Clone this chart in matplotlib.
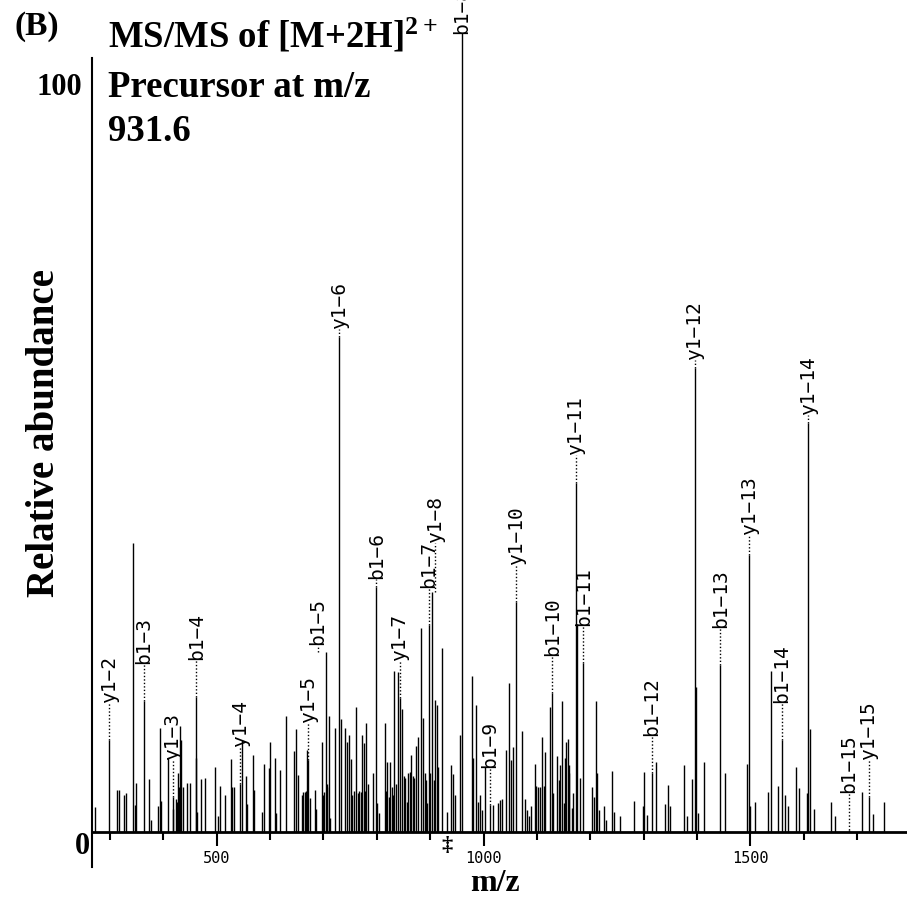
import numpy as np
import matplotlib.pyplot as plt

plt.rcParams['mathtext.fontset'] = 'custom'
plt.rcParams['mathtext.rm'] = 'Liberation Serif:bold'

# peak list (m/z, relative abundance)
mz = [272, 299, 314, 317, 326, 331, 343, 346, 349, 364, 373, 376, 390, 393, 396,
      408, 418, 419, 424, 425, 428, 430, 431, 434, 436, 444, 450, 461, 462, 464,
      471, 479, 497, 502, 506, 515, 526, 529, 532, 544, 548, 555, 557, 568, 570,
      585, 588, 598, 600, 609, 612, 618, 629, 645, 648, 653, 660, 662, 665, 667,
      669, 672, 675, 684, 687, 698, 700, 701, 704, 706, 707, 710, 712, 722, 730,
      733, 740, 744, 748, 752, 754, 758, 762, 765, 767, 770, 773, 776, 778, 780,
      783, 793, 799, 801, 804, 815, 817, 819, 822, 825, 828, 830, 833, 836, 840,
      843, 847, 851, 853, 856, 859, 862, 865, 867, 870, 873, 878, 882, 886, 890,
      892, 894, 897, 900, 904, 907, 909, 912, 915, 922, 931, 939, 943, 947, 956,
      959, 978, 981, 986, 989, 993, 998, 1003, 1012, 1017, 1028, 1031, 1035, 1043,
      1048, 1052, 1055, 1061, 1072, 1078, 1081, 1085, 1089, 1096, 1098, 1103, 1106,
      1110, 1113, 1116, 1125, 1129, 1131, 1138, 1141, 1144, 1147, 1151, 1152, 1155,
      1158, 1160, 1161, 1165, 1168, 1173, 1176, 1181, 1187, 1204, 1208, 1211, 1213,
      1217, 1226, 1229, 1241, 1244, 1256, 1282, 1298, 1300, 1306, 1315, 1323, 1341,
      1346, 1349, 1376, 1382, 1391, 1396, 1399, 1402, 1414, 1444, 1453, 1494, 1498,
      1500, 1509, 1533, 1539, 1552, 1559, 1565, 1570, 1586, 1592, 1607, 1609, 1612,
      1619, 1651, 1659, 1685, 1710, 1722, 1730, 1751]
abundance = [3.3, 12.4, 5.6, 5.6, 5.0, 5.2, 38.8, 3.6, 6.6, 17.6, 7.1, 1.6, 3.5, 14.0, 4.2,
             10.0, 4.7, 3.1, 4.5, 4.0, 7.9, 6.0, 14.2, 12.4, 6.0, 6.6, 6.6, 9.9, 18.1, 2.7,
             7.1, 7.3, 8.8, 2.1, 6.2, 5.0, 9.8, 6.1, 6.0, 6.4, 12.4, 7.5, 3.8, 10.4, 5.6,
             2.7, 9.2, 8.6, 12.1, 10.0, 2.5, 8.3, 15.6, 10.9, 13.9, 7.7, 5.0, 5.4, 5.4, 5.5,
             11.0, 9.7, 4.6, 5.6, 3.1, 12.1, 5.0, 5.4, 24.2, 6.0, 6.5, 15.6, 1.9, 14.0, 66.5,
             15.2, 14.0, 12.1, 13.0, 9.8, 5.0, 5.5, 16.8, 5.2, 5.5, 5.4, 13.0, 11.9, 5.5, 14.7,
             6.4, 7.9, 32.9, 3.9, 2.5, 14.7, 5.5, 9.4, 4.7, 9.4, 6.1, 5.0, 21.7, 6.5, 21.5,
             18.0, 16.6, 7.5, 7.2, 4.1, 8.0, 8.1, 10.3, 7.5, 7.2, 11.5, 12.8, 27.4, 15.3, 7.9,
             7.0, 3.9, 27.8, 8.0, 32.3, 7.0, 17.7, 17.1, 8.8, 24.7, 2.7, 9.0, 7.8, 5.0, 13.0,
             107.4, 21.0, 9.9, 17.1, 4.1, 5.0, 3.0, 8.8, 3.6, 3.6, 3.9, 4.3, 4.5, 11.0,
             20.0, 9.7, 11.4, 30.9, 13.6, 4.5, 3.0, 2.2, 3.5, 9.2, 6.2, 6.1, 6.1,
             12.8, 6.2, 10.8, 16.8, 18.7, 5.2, 10.2, 7.0, 9.0, 17.6, 3.9, 10.0, 12.1,
             12.5, 9.0, 7.9, 3.2, 5.2, 46.9, 28.0, 7.2, 22.7, 6.1, 4.7, 17.6, 7.9,
             3.0, 3.5, 1.6, 8.2, 2.7, 2.1, 4.2, 3.5, 8.1, 2.3, 7.9, 9.4, 3.8,
             6.3, 3.5, 9.0, 2.1, 7.1, 62.4, 19.5, 2.5, 9.4, 22.4, 8.0, 9.2, 37.2,
             3.5, 4.0, 5.4, 21.7, 6.2, 12.4, 5.0, 3.5, 8.8, 5.9, 5.2, 55.0, 13.8,
             3.1, 4.0, 2.1, 0.3, 5.4, 4.7, 2.4, 4.0]

# annotated fragment ions
ion_names = ['y1\u22122', 'b1\u22123', 'y1\u22123', 'b1\u22124', 'y1\u22124', 'y1\u22125',
             'b1\u22125', 'y1\u22126', 'b1\u22126', 'y1\u22127', 'b1\u22127', 'y1\u22128',
             'b1\u22128', 'b1\u22129', 'y1\u221210', 'b1\u221210', 'y1\u221211', 'b1\u221211',
             'b1\u221212', 'y1\u221212', 'b1\u221213', 'y1\u221213', 'b1\u221214', 'y1\u221214',
             'b1\u221215', 'y1\u221215']
ion_mz = [299, 364, 418, 462, 544, 672, 704, 730, 799, 843, 897, 904, 959, 1012,
          1061, 1129, 1173, 1187, 1315, 1396, 1444, 1498, 1559, 1609, 1685, 1722]

precursor_mz = 931.6

# gap between peak top and label (data units), and sideways shift (m/z)
label_gap = {'y1\u22126': 1.1, 'b1\u22126': 1.1, 'y1\u221212': 1.1, 'y1\u221214': 1.1,
             'y1\u221213': 2.7, 'y1\u221211': 3.8, 'y1\u22128': 6.6, 'b1\u22128': -0.2,
             'b1\u22125': 1.0}
label_shift = {'b1\u22125': -15, 'y1\u22128': 6}

height = dict(zip(mz, abundance))

fig = plt.figure(figsize=(9.07, 8.99), dpi=100)
ax = fig.add_axes([0.1014, 0.0356, 0.8986, 0.8999])
ax.set_xlim(266.3, 1793.6)
ax.set_ylim(-4.70, 104.03)

ax.vlines(mz, 0, abundance, color='black', linewidth=1.0, clip_on=False)

for name, m in zip(ion_names, ion_mz):
    top = height[m]
    gap = label_gap.get(name, 5.0)
    lx = m + label_shift.get(name, 0)
    if gap > 0.3:
        ax.plot([lx, lx], [top, top + gap], color='black', linewidth=1.0,
                linestyle=(0, (1, 1.5)), clip_on=False)
    ax.text(lx, top + gap, name, rotation=90, ha='center', va='bottom',
            fontsize=14, family='DejaVu Sans Mono', clip_on=False)

# axes styling
for s in ['top', 'right']:
    ax.spines[s].set_visible(False)
ax.spines['left'].set_linewidth(1.5)
ax.spines['bottom'].set_position(('data', 0))
ax.spines['bottom'].set_linewidth(2)
ax.set_yticks([])
ax.set_xticks([500, 1000, 1500])
ax.set_xticks(np.arange(300, 1800, 100), minor=True)
ax.tick_params(axis='x', which='major', length=10, width=1.5, pad=4,
               labelsize=11, labelfontfamily='DejaVu Sans Mono')
ax.tick_params(axis='x', which='minor', length=6, width=1.5)

serif = 'Liberation Serif'
ax.text(-0.012, 100, '100', transform=ax.get_yaxis_transform(), ha='right', va='center',
        fontsize=22, fontweight='bold', family=serif)
ax.text(-0.003, -2.0, '0', transform=ax.get_yaxis_transform(), ha='right', va='center',
        fontsize=22, fontweight='bold', family=serif)
ax.text(precursor_mz, -1.9, '\u2021', ha='center', va='center', fontsize=16,
        fontweight='bold', family=serif)

fig.text(45 / 907, 1 - 433 / 899, 'Relative abundance', rotation=90, ha='center',
         va='center', fontsize=28, fontweight='bold', family=serif)
fig.text(495 / 907, 1 - 891 / 899, 'm/z', ha='center', va='baseline', fontsize=23,
         fontweight='bold', family=serif)
fig.text(14 / 907, 1 - 27 / 899, '(B)', ha='left', va='center', fontsize=24,
         fontweight='bold', family=serif)
fig.text(108 / 907, 1 - 48 / 899, 'MS/MS of [M+2H]$\\mathregular{^{2+}}$', ha='left',
         va='baseline', fontsize=26.5, fontweight='bold', family=serif)
fig.text(108 / 907, 1 - 97 / 899, 'Precursor at m/z', ha='left', va='baseline',
         fontsize=26.5, fontweight='bold', family=serif)
fig.text(108 / 907, 1 - 141 / 899, '931.6', ha='left', va='baseline', fontsize=26.5,
         fontweight='bold', family=serif)

fig.savefig('out.png', dpi=100)
